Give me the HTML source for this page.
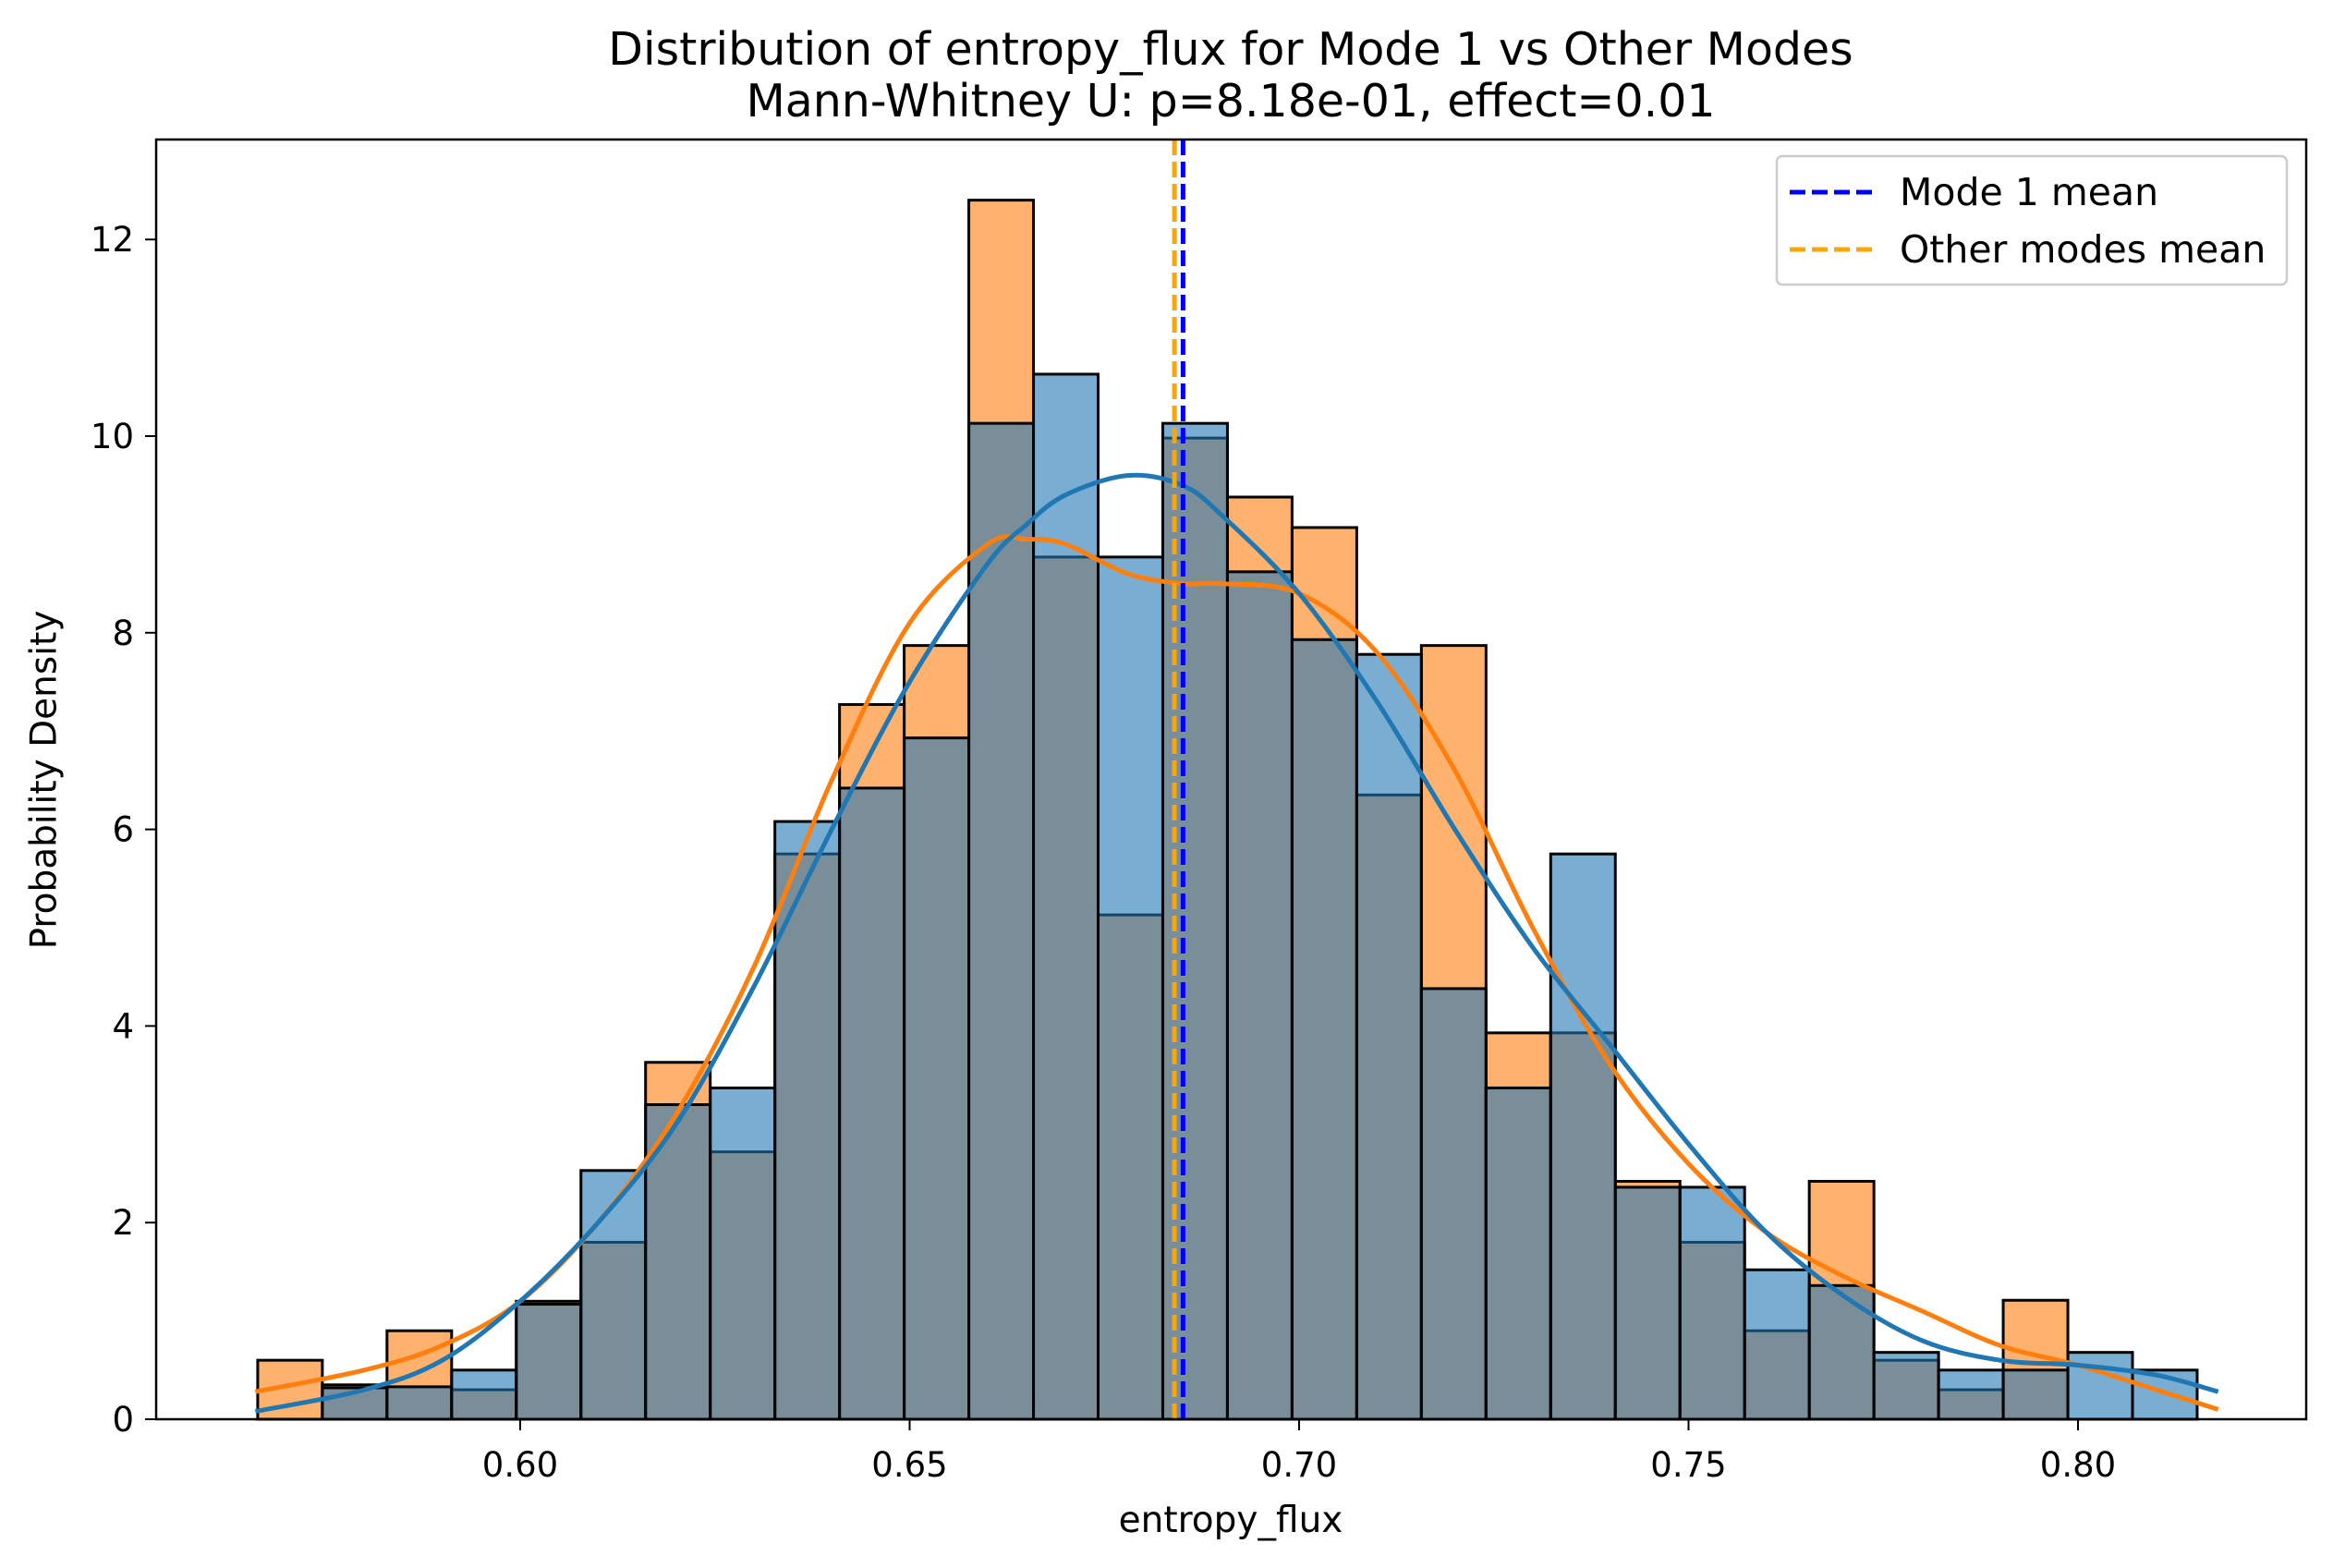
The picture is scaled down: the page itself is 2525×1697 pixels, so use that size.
<!DOCTYPE html>
<html><head><meta charset="utf-8">
<style>
html,body{margin:0;padding:0;background:#fff;}
svg{display:block;font-family:"DejaVu Sans","Liberation Sans",sans-serif;}
</style></head>
<body>
<svg id="chart" width="2525" height="1697" viewBox="0 0 2525 1697">
  <rect x="0" y="0" width="2525" height="1697" fill="#fff"/>
  <text x="1332" y="70" font-size="49" text-anchor="middle">Distribution of entropy_flux for Mode 1 vs Other Modes</text>
  <text x="1332" y="126" font-size="49" text-anchor="middle">Mann-Whitney U: p=8.18e-01, effect=0.01</text>
  <g id="bars"></g>
  <g id="curves"></g>
  <g id="means"></g>
  <rect x="169" y="151" width="2327" height="1385" fill="none" stroke="#000" stroke-width="2.5"/>
  <g id="xticks"></g>
  <g id="yticks"></g>
  <text x="1332" y="1658" font-size="39" text-anchor="middle">entropy_flux</text>
  <text x="48" y="844" font-size="39" text-anchor="middle" dominant-baseline="central" transform="rotate(-90 48 844)">Probability Density</text>
  <g>
    <rect x="1923" y="169" width="552" height="139" rx="6" fill="#fff" fill-opacity="0.8" stroke="#ccc" stroke-width="2.5"/>
    <line x1="1937" y1="208" x2="2029" y2="208" stroke="#0000ff" stroke-width="5" stroke-dasharray="17 7"/>
    <text x="2056" y="222" font-size="41">Mode 1 mean</text>
    <line x1="1937" y1="270" x2="2029" y2="270" stroke="#ffa500" stroke-width="5" stroke-dasharray="17 7"/>
    <text x="2056" y="284" font-size="41">Other modes mean</text>
  </g>
</svg>
<script>
const binStart = 0.5663;
const binWidth = 0.0083;
const mode1Density = [0,0.32,0.33,0.5,1.17,2.53,3.2,3.37,6.08,6.42,6.93,10.13,10.63,8.77,10.13,8.62,7.93,7.78,4.38,3.37,5.75,2.36,2.36,1.52,1.36,0.68,0.5,0.5,0.68,0.5];
const otherDensity = [0.6,0.35,0.9,0.3,1.2,1.8,3.63,2.72,5.75,7.27,7.87,12.4,8.77,5.13,9.98,9.38,9.07,6.35,7.87,3.93,3.93,2.42,1.8,0.9,2.42,0.6,0.3,1.21,0,0];
const kdeX = [0.566,0.58,0.59,0.60,0.61,0.62,0.63,0.64,0.65,0.66,0.665,0.67,0.678,0.685,0.69,0.70,0.71,0.72,0.73,0.74,0.75,0.76,0.77,0.78,0.79,0.80,0.81,0.818];
const mode1Kde = [0.08,0.3,0.6,1.2,2.0,3.0,4.4,6.0,7.5,8.7,9.1,9.4,9.6,9.5,9.2,8.4,7.3,6.0,4.8,3.8,2.8,1.9,1.25,0.8,0.6,0.55,0.45,0.28];
const otherKde = [0.28,0.5,0.75,1.2,2.0,3.1,4.6,6.5,8.1,8.9,8.95,8.9,8.6,8.5,8.5,8.4,7.8,6.6,5.0,3.6,2.6,1.9,1.45,1.1,0.75,0.55,0.3,0.1];
const mode1Mean = 0.6851;
const otherMean = 0.684;
const xTicks = [0.60,0.65,0.70,0.75,0.80];
const xTickLabels = ["0.60","0.65","0.70","0.75","0.80"];
const yTicks = [0,2,4,6,8,10,12];

const NS = "http://www.w3.org/2000/svg";
function X(v){ return 563 + (v - 0.60) * 8430; }
function Y(v){ return 1536 - v * 106.4; }
function mk(tag, attrs, parent){ const e = document.createElementNS(NS, tag); for (const k in attrs) e.setAttribute(k, attrs[k]); parent.appendChild(e); return e; }

const bars = document.getElementById('bars');
function drawBars(arr, fill, nm){
  arr.forEach((d, i) => {
    if (d <= 0) return;
    const x0 = X(binStart + i * binWidth), x1 = X(binStart + (i + 1) * binWidth);
    const r = mk('rect', {x: x0, y: Y(d), width: x1 - x0, height: Y(0) - Y(d), fill: fill, 'fill-opacity': 0.6, stroke: '#000', 'stroke-width': 3}, bars);
    
    
  });
}
drawBars(otherDensity, '#ff7f0e', 'other');
drawBars(mode1Density, '#1f77b4', 'mode1');

const curves = document.getElementById('curves');
function smoothPath(px){
  let d = 'M' + px[0][0].toFixed(1) + ',' + px[0][1].toFixed(1);
  for (let i = 0; i < px.length - 1; i++) {
    const p0 = px[Math.max(0, i - 1)], p1 = px[i], p2 = px[i + 1], p3 = px[Math.min(px.length - 1, i + 2)];
    const c1x = p1[0] + (p2[0] - p0[0]) / 6, c1y = p1[1] + (p2[1] - p0[1]) / 6;
    const c2x = p2[0] - (p3[0] - p1[0]) / 6, c2y = p2[1] - (p3[1] - p1[1]) / 6;
    d += ' C' + c1x.toFixed(1) + ',' + c1y.toFixed(1) + ' ' + c2x.toFixed(1) + ',' + c2y.toFixed(1) + ' ' + p2[0].toFixed(1) + ',' + p2[1].toFixed(1);
  }
  return d;
}
function drawCurve(ys, color, nm){
  const px = kdeX.map((x, i) => [X(x), Y(ys[i])]);
  const p = mk('path', {d: smoothPath(px), fill: 'none', stroke: color, 'stroke-width': 5, 'stroke-linejoin': 'round'}, curves);
  
  
}
drawCurve(otherKde, '#ff7f0e', 'other-kde-curve');
drawCurve(mode1Kde, '#1f77b4', 'mode1-kde-curve');

const means = document.getElementById('means');
const lo = mk('line', {x1: X(otherMean), x2: X(otherMean), y1: 151, y2: 1536, stroke: '#ffa500', 'stroke-width': 5, 'stroke-dasharray': '17 7'}, means);


const lb = mk('line', {x1: X(mode1Mean), x2: X(mode1Mean), y1: 151, y2: 1536, stroke: '#0000ff', 'stroke-width': 5, 'stroke-dasharray': '17 7'}, means);



const xt = document.getElementById('xticks');
xTicks.forEach((v, i) => {
  const l = mk('line', {x1: X(v), x2: X(v), y1: 1536, y2: 1548, stroke: '#000', 'stroke-width': 2}, xt);
  
  
  const t = mk('text', {x: X(v), y: 1598, 'font-size': 37, 'text-anchor': 'middle'}, xt);
  t.textContent = xTickLabels[i];
  
  
});
const yt = document.getElementById('yticks');
yTicks.forEach(v => {
  const l = mk('line', {x1: 157, x2: 169, y1: Y(v), y2: Y(v), stroke: '#000', 'stroke-width': 2}, yt);
  
  
  const t = mk('text', {x: 145, y: Y(v) + 13, 'font-size': 37, 'text-anchor': 'end'}, yt);
  t.textContent = String(v);
  
  
});
</script>
</body></html>
